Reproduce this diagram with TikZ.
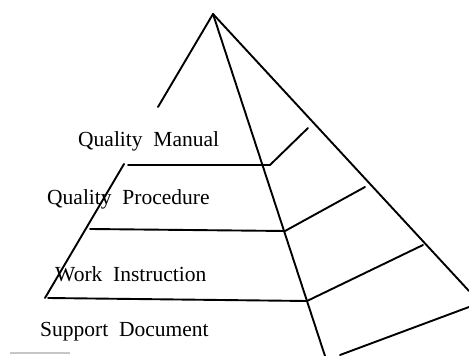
\documentclass[tikz,border=0pt]{standalone}
\usepackage{fontspec}
\setmainfont{Liberation Serif}
\begin{document}
\begin{tikzpicture}[x=1pt,y=1pt,
  edge/.style={line width=1.9pt,line cap=round,line join=round},
  label/.style={anchor=base west,inner sep=0pt,font=\fontsize{21.5}{24}\selectfont}]
\useasboundingbox (0,0) rectangle (469,356);
% apex and outer edges
\coordinate (apex) at (213,342);
\coordinate (lt1) at (158,249);
\coordinate (lt2) at (124,192);
\coordinate (lt3) at (45,58);
\coordinate (mid) at (325,0);
\coordinate (rgt) at (469,65);
\draw[edge] (apex) -- (lt1);
\draw[edge] (lt2) -- (lt3);
\draw[edge] (apex) -- (mid);
\draw[edge] (apex) -- (rgt);
% level dividers: horizontal on the front face, bent up on the side face
\coordinate (s1a) at (128,191); \coordinate (s1b) at (270,191); \coordinate (s1c) at (308,228);
\coordinate (s2a) at (90,127);  \coordinate (s2b) at (285,125); \coordinate (s2c) at (365,169);
\coordinate (s3a) at (48,58);   \coordinate (s3b) at (307,55);  \coordinate (s3c) at (423,111);
\coordinate (s4b) at (340,1);   \coordinate (s4c) at (469,49);
\draw[edge] (s1a) -- (s1b) -- (s1c);
\draw[edge] (s2a) -- (s2b) -- (s2c);
\draw[edge] (s3a) -- (s3b) -- (s3c);
\draw[edge] (s4b) -- (s4c);
% short base stroke
\coordinate (b1) at (10,3); \coordinate (b2) at (70,3);
\draw[gray!45,line width=1.2pt] (b1) -- (b2);
% level names
\node[label] (qm) at (78,209) {Quality\ \ Manual};
\node[label] (qp) at (47,151) {Quality\ \ Procedure};
\node[label] (wi) at (55,74) {Work\ \ Instruction};
\node[label] (sd) at (40,19) {Support\ \ Document};
\end{tikzpicture}
\end{document}
